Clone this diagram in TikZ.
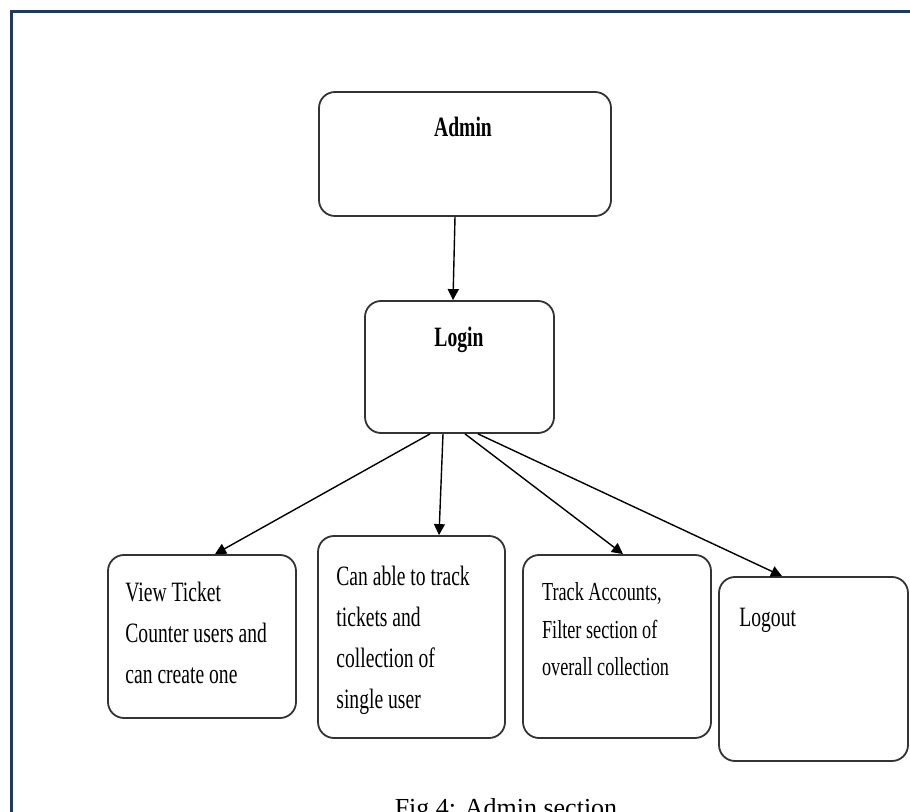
\documentclass[tikz,border=0pt]{standalone}
\usepackage{fontspec}
\setmainfont{Liberation Serif}[FakeStretch=0.7]
\newfontfamily\capfont{Liberation Serif}
\usetikzlibrary{arrows.meta}
\definecolor{framenavy}{RGB}{31,56,100}

\begin{document}
\begin{tikzpicture}[x=0.5pt,y=-0.5pt,
    box/.style = {draw=black!80, line width=0.9pt, rounded corners=8pt, inner sep=0pt},
    txt/.style = {inner sep=0pt, align=left, font=\fontsize{14}{20.5}\selectfont},
    >={Triangle[length=5.5pt,width=5.5pt]}]
        \useasboundingbox (0,0) rectangle (910,812);
        \clip (0,0) rectangle (910,812);
        \draw[framenavy, line width=1.5pt] (11.5,830) |- (930,12);
        % boxes
        \node[box, minimum width=146pt, minimum height=62pt] (admin) at (465,154) {};
        \node[box, minimum width=94.5pt, minimum height=66pt] (login) at (459.5,367) {};
        \node[box, minimum width=94pt, minimum height=81.5pt] (view) at (202,636.5) {};
        \node[box, minimum width=93.5pt, minimum height=101pt] (track) at (411.5,637) {};
        \node[box, minimum width=94pt, minimum height=91.5pt] (accounts) at (617,646.5) {};
        \node[box, minimum width=94.5pt, minimum height=92pt] (logout) at (813.5,669) {};
        % texts (base = last line)
        \node[txt, anchor=base] (admintext) at (463,136.7) {\textbf{Admin}};
        \node[txt, anchor=base] (logintext) at (459,346.7) {\textbf{Login}};
        \node[txt, anchor=base west] (viewtext) at (125,683.5) {View Ticket\\Counter users and\\can create one};
        \node[txt, anchor=base west] (tracktext) at (336,708) {Can able to track\\tickets and\\collection of\\single user};
        \node[txt, anchor=base west, font=\fontsize{13}{18.75}\selectfont] (accountstext) at (541.7,675.5) {Track Accounts,\\Filter section of\\overall collection};
        \node[txt, anchor=base west] (logouttext) at (739,626) {Logout};
        \node[inner sep=0pt, anchor=base, font=\capfont\fontsize{13}{15}\selectfont] (caption) at (506,816) {Fig 4: Admin section};
        % arrows
        \draw[->, line width=0.7pt] ([xshift=-5pt]admin.south) -- ([xshift=-3.25pt]login.north);
        \draw[->, line width=0.7pt] ([xshift=-14.75pt]login.south) -- ([xshift=6.5pt]view.north);
        \draw[->, line width=0.7pt] ([xshift=-8.25pt]login.south) -- ([xshift=13.75pt]track.north);
        \draw[->, line width=0.7pt] ([xshift=2.75pt]login.south) -- ([xshift=3pt]accounts.north);
        \draw[->, line width=0.7pt] ([xshift=9.25pt]login.south) -- ([xshift=-15.75pt]logout.north);
\end{tikzpicture}
\end{document}
